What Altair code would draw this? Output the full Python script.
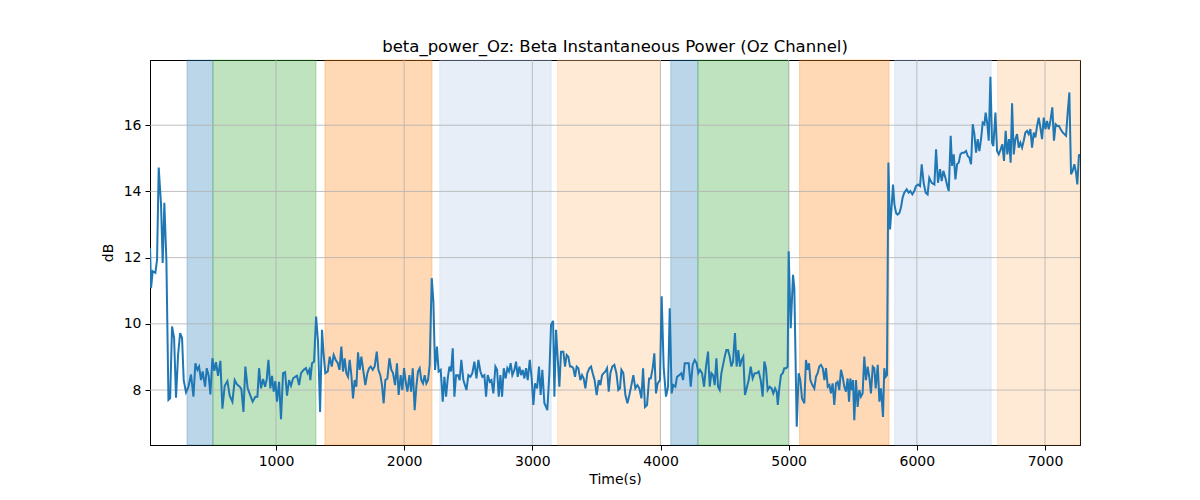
import altair as alt
import pandas as pd

# beta power samples (seconds, dB)
t_sec = [
    17.5, 25, 38, 59, 72, 85, 103, 116, 129, 145, 161, 174, 189, 205, 220, 236, 252, 267, 280, 298,
    317, 337, 356, 371, 387, 400, 415, 428, 447, 460, 475, 488, 504, 519, 532, 548, 566, 582, 600, 621,
    639, 660, 678, 696, 717, 730, 746, 761, 779, 800, 818, 839, 855, 868, 883, 899, 915, 928, 941, 956,
    969, 982, 995, 1008, 1024, 1039, 1055, 1071, 1086, 1102, 1117, 1133, 1149, 1164, 1180, 1195, 1216, 1234, 1247, 1260,
    1268, 1281, 1297, 1313, 1328, 1344, 1359, 1372, 1385, 1404, 1419, 1435, 1450, 1466, 1482, 1495, 1510, 1523, 1536, 1549,
    1562, 1575, 1588, 1601, 1614, 1627, 1640, 1653, 1666, 1682, 1697, 1713, 1726, 1739, 1755, 1770, 1786, 1799, 1814, 1827,
    1840, 1853, 1869, 1885, 1900, 1913, 1929, 1944, 1957, 1973, 1986, 1999, 2012, 2025, 2041, 2054, 2067, 2082, 2095, 2108,
    2121, 2134, 2147, 2160, 2173, 2186, 2199, 2215, 2228, 2241, 2256, 2269, 2285, 2301, 2314, 2327, 2340, 2353, 2366, 2379,
    2392, 2405, 2420, 2433, 2446, 2462,
    2486, 2501, 2517, 2532, 2548, 2564, 2579, 2595, 2610, 2626, 2639, 2652, 2668, 2681, 2696, 2712, 2725, 2738, 2751, 2764,
    2777, 2792, 2805, 2818, 2831, 2844, 2860, 2873, 2886, 2899, 2912, 2925, 2938, 2951, 2964, 2980, 2995, 3008, 3021, 3037,
    3052, 3065, 3078, 3094, 3107, 3117, 3133, 3146, 3162, 3172, 3185, 3198, 3211, 3224, 3242, 3255, 3268, 3281, 3294, 3307,
    3320, 3333, 3346, 3359, 3375, 3388, 3401, 3414, 3429, 3445, 3458, 3471, 3486, 3502, 3518, 3531, 3544, 3557, 3570, 3583,
    3596, 3609, 3624, 3640, 3656, 3671,
    3684, 3695, 3710, 3726, 3742, 3757, 3773, 3788, 3804, 3820, 3835, 3851, 3864, 3879, 3895, 3911, 3924, 3939, 3952, 3965,
    3978, 3996, 4009, 4025, 4043, 4059, 4072, 4087, 4100, 4116, 4129, 4147, 4163, 4176, 4189, 4204, 4220, 4236, 4251, 4267,
    4282, 4295, 4308, 4324, 4340, 4355, 4371, 4384, 4397, 4410, 4423, 4436, 4449, 4462, 4475, 4488, 4501, 4514, 4527, 4540,
    4553, 4566, 4581, 4594, 4607, 4620, 4633, 4646, 4659, 4672, 4688, 4704, 4719, 4735, 4750, 4766, 4782, 4797, 4810, 4823,
    4836, 4852, 4867, 4880,
    4894, 4907, 4915, 4927, 4940, 4954, 4966, 4980, 4992, 5000, 5016, 5034, 5044, 5063, 5078, 5091, 5104, 5122, 5135, 5148,
    5159, 5169, 5185, 5200, 5213, 5226, 5239, 5252, 5266, 5279, 5291, 5305, 5318, 5330, 5343, 5356, 5369, 5382, 5395, 5408,
    5421, 5434, 5447, 5460, 5471, 5481, 5492, 5502, 5512, 5525, 5538, 5551, 5564, 5577, 5590, 5603, 5616, 5629, 5642, 5656,
    5668, 5679, 5695, 5708, 5720, 5736, 5746, 5757, 5767, 5778, 5791, 5801, 5814, 5825, 5838, 5850, 5864, 5876, 5889, 5902,
    5921, 5936, 5949, 5965, 5980, 5993, 6009, 6025, 6038, 6053, 6069, 6084, 6097,
    6116, 6137, 6150, 6165, 6181, 6194, 6207, 6223, 6238, 6249, 6264, 6275, 6288, 6301, 6314, 6327, 6340, 6353, 6368, 6384,
    6397, 6410, 6423, 6436, 6449, 6462, 6475, 6488, 6501, 6514, 6527, 6537, 6550, 6561, 6574, 6587, 6597, 6613, 6626, 6639,
    6654, 6667, 6680, 6693, 6706, 6719, 6732, 6743, 6756, 6769, 6782, 6795, 6808, 6821, 6834, 6847, 6860, 6873, 6886, 6899,
    6912, 6925, 6938, 6951, 6964, 6977, 6990, 7003, 7016, 7029, 7042, 7057, 7070, 7083, 7096, 7109, 7122, 7138, 7151, 7164,
    7177, 7190, 7203, 7216, 7229, 7242, 7252, 7265, 7273,
]
power_db = [
    12.29, 11.08, 11.59, 11.54, 11.94, 14.72, 13.61, 11.84, 13.66, 11.89, 7.70, 7.75, 9.92, 9.57, 7.77, 9.06, 9.72, 9.57, 8.30, 7.93,
    8.10, 8.47, 7.80, 8.81, 8.61, 8.71, 8.30, 8.56, 8.10, 8.66, 8.43, 7.87, 8.96, 8.58, 8.84, 8.43, 8.88, 7.44, 8.13, 8.27,
    7.83, 7.65, 8.30, 8.17, 8.10, 8.03, 7.34, 8.71, 8.05, 7.83, 7.65, 7.80, 7.80, 8.66, 8.05, 8.33, 8.10, 8.33, 8.91, 8.05,
    8.43, 7.95, 8.27, 7.65, 8.25, 7.12, 8.51, 8.54, 7.83, 8.30, 8.13, 8.35, 8.40, 8.43, 8.15, 8.51, 8.61, 8.66, 8.51, 8.61,
    8.30, 8.81, 8.86, 10.22, 9.46, 7.34, 9.82, 9.06, 8.51, 8.56, 9.01, 8.71, 9.06, 8.91, 8.81, 8.61, 9.31, 8.56, 8.96, 8.51,
    8.40, 8.91, 8.45, 7.75, 8.30, 8.10, 9.14, 8.61, 9.01, 8.56, 8.15, 8.51, 8.66, 8.71, 8.61, 8.71, 9.16, 8.61, 8.45, 8.15,
    7.60, 8.30, 8.35, 8.96, 8.61, 8.51, 8.15, 8.81, 7.85, 8.45, 8.00, 8.66, 8.25, 7.95, 8.45, 7.95, 8.66, 7.39, 8.10, 8.56,
    8.66, 8.30, 8.20, 8.45, 8.20, 8.30, 8.76, 11.38, 10.68, 8.61, 9.31, 8.56, 8.61, 7.65, 8.40, 7.80, 8.35, 8.71, 8.56, 9.26,
    7.80, 8.45, 8.45, 8.30, 8.91, 8.30,
    8.00, 8.45, 8.40, 8.51, 8.86, 8.35, 8.91, 8.56, 8.40, 8.45, 7.80, 8.45, 8.25, 8.30, 7.90, 8.71, 8.61, 7.80, 8.45, 7.80,
    8.66, 8.35, 8.66, 8.56, 8.81, 8.45, 8.61, 8.86, 8.40, 8.71, 8.45, 8.61, 8.35, 8.66, 8.30, 8.91, 8.35, 7.55, 8.20, 8.05,
    8.71, 7.85, 8.61, 7.60, 7.49, 7.39, 8.51, 9.97, 10.09, 7.80, 9.82, 8.96, 8.10, 9.16, 9.16, 8.71, 9.06, 9.01, 8.71, 8.71,
    8.66, 8.40, 8.71, 8.66, 8.30, 8.45, 8.35, 8.05, 8.51, 8.66, 8.71, 8.51, 8.30, 7.85, 8.30, 8.15, 8.45, 8.51, 8.56, 8.66,
    7.95, 8.51, 8.71, 8.76, 8.51, 8.00,
    8.05, 8.61, 8.51, 7.85, 7.60, 7.85, 8.15, 8.45, 8.05, 8.15, 8.05, 7.75, 8.66, 7.49, 7.55, 8.35, 8.35, 8.66, 9.11, 7.90,
    8.20, 8.30, 10.83, 8.66, 7.80, 8.10, 10.47, 7.90, 8.15, 8.10, 8.40, 8.45, 8.51, 8.30, 8.81, 8.81, 8.81, 8.10, 8.76, 8.91,
    8.81, 8.51, 8.61, 8.51, 8.10, 8.71, 9.16, 8.10, 8.51, 8.45, 8.15, 8.96, 8.10, 8.00, 8.51, 8.76, 9.01, 9.21, 9.21, 9.01,
    8.71, 8.86, 9.72, 8.71, 9.21, 8.71, 8.91, 9.01, 7.85, 8.05, 8.30, 8.71, 8.35, 8.51, 8.51, 8.56, 8.30, 7.80, 8.86, 8.66,
    8.00, 8.10, 8.05, 7.90,
    8.05, 7.95, 7.55, 8.05, 8.45, 8.51, 8.66, 8.66, 8.71, 12.19, 9.87, 11.48, 11.08, 6.89, 8.51, 8.30, 7.75, 7.60, 8.91, 8.61,
    8.81, 8.30, 8.15, 8.05, 8.40, 8.51, 8.71, 8.76, 8.66, 8.30, 8.66, 8.10, 8.15, 7.90, 8.20, 7.55, 8.20, 8.25, 8.00, 8.61,
    8.40, 8.10, 7.95, 8.35, 7.65, 8.35, 8.00, 8.30, 7.09, 8.30, 7.49, 8.00, 7.80, 7.90, 9.01, 8.30, 8.71, 8.40, 7.90, 8.71,
    8.66, 8.05, 8.76, 7.65, 8.05, 7.19, 8.66, 8.40, 8.45, 14.87, 12.85, 13.40, 14.21, 13.61, 13.35, 13.30, 13.35, 13.51, 13.81, 13.96,
    14.06, 13.96, 14.01, 13.91, 14.01, 14.16, 14.21, 14.16, 14.82, 14.26, 13.96, 13.91, 14.41,
    14.26, 14.21, 15.27, 14.26, 14.67, 14.31, 14.62, 14.41, 14.16, 14.01, 15.68, 14.77, 15.12, 14.36, 14.82, 14.87, 15.12, 15.17, 15.17, 15.22,
    15.07, 15.02, 14.82, 16.03, 15.73, 15.17, 15.58, 15.22, 15.58, 16.08, 16.03, 16.38, 16.03, 15.53, 17.46, 15.47, 15.37, 16.38, 15.22, 15.12,
    15.27, 15.42, 14.92, 15.83, 15.12, 15.58, 14.87, 16.66, 15.12, 15.58, 15.73, 15.32, 15.47, 15.32, 15.53, 15.78, 15.83, 15.73, 15.88, 15.32,
    15.78, 15.63, 15.98, 16.23, 15.93, 15.58, 16.23, 15.88, 16.13, 15.88, 16.13, 16.54, 15.53, 16.03, 15.98, 15.98, 15.88, 15.78, 15.73, 15.68,
    16.38, 16.99, 14.52, 14.62, 14.82, 14.57, 14.21, 15.12, 15.02,
]

# shaded task epochs
span_start = [306, 508, 1382, 2278, 3197, 4080, 4292, 5085, 5827, 6630]
span_end = [508, 1312, 2217, 3147, 3995, 4292, 5001, 5783, 6580, 7273]
span_color = ["#1f77b4", "#2ca02c", "#ff7f0e", "#aec7e8", "#ffbb78",
              "#1f77b4", "#2ca02c", "#ff7f0e", "#aec7e8", "#ffbb78"]

x_ticks = [1000, 2000, 3000, 4000, 5000, 6000, 7000]
y_ticks = [8, 10, 12, 14, 16]

x_domain = [17, 7273]
y_domain = [6.34, 17.97]

line_df = pd.DataFrame({"t": t_sec, "db": power_db})
span_df = pd.DataFrame({"start": span_start, "end": span_end, "color": span_color})

FONT = "DejaVu Sans"

x_scale = alt.Scale(domain=x_domain, nice=False, zero=False)
y_scale = alt.Scale(domain=y_domain, nice=False, zero=False)

x_axis = alt.Axis(values=x_ticks, format="d", grid=False, title="Time(s)",
                  tickSize=5, tickColor="black", domainColor="black",
                  labelColor="black", labelFontSize=14, labelFont=FONT,
                  labelPadding=4, titleFont=FONT, titleFontSize=14,
                  titleFontWeight="normal", titleColor="black", titlePadding=4)
y_axis = alt.Axis(values=y_ticks, grid=False, title="dB",
                  tickSize=5, tickColor="black", domainColor="black",
                  labelColor="black", labelFontSize=14, labelFont=FONT,
                  labelPadding=4, titleFont=FONT, titleFontSize=14,
                  titleFontWeight="normal", titleColor="black", titlePadding=8)

spans = alt.Chart(span_df).mark_rect(fillOpacity=0.3, strokeOpacity=0.3, strokeWidth=1).encode(
    x=alt.X("start:Q", scale=x_scale, axis=x_axis),
    x2="end:Q",
    fill=alt.Fill("color:N", scale=None),
    stroke=alt.Stroke("color:N", scale=None),
)

vgrid = alt.Chart(pd.DataFrame({"g": x_ticks})).mark_rule(color="#b0b0b0", strokeWidth=0.8).encode(
    x=alt.X("g:Q", scale=x_scale),
)
hgrid = alt.Chart(pd.DataFrame({"g": y_ticks})).mark_rule(color="#b0b0b0", strokeWidth=0.8).encode(
    y=alt.Y("g:Q", scale=y_scale, axis=y_axis),
)

line = alt.Chart(line_df).mark_line(color="#1f77b4", strokeWidth=2, clip=True).encode(
    x=alt.X("t:Q", scale=x_scale),
    y=alt.Y("db:Q", scale=y_scale),
)

chart = alt.layer(spans, vgrid, hgrid, line).properties(
    width=930,
    height=385,
    title=alt.TitleParams("beta_power_Oz: Beta Instantaneous Power (Oz Channel)",
                          font=FONT, fontSize=16.5, fontWeight="normal", color="black",
                          offset=4),
    autosize=alt.AutoSizeParams(type="none"),
    padding={"left": 142, "top": 52, "right": 100, "bottom": 40},
).configure_view(
    stroke="black", strokeWidth=1
)

chart.save("out.html", embed_options={"renderer": "svg", "actions": False})
